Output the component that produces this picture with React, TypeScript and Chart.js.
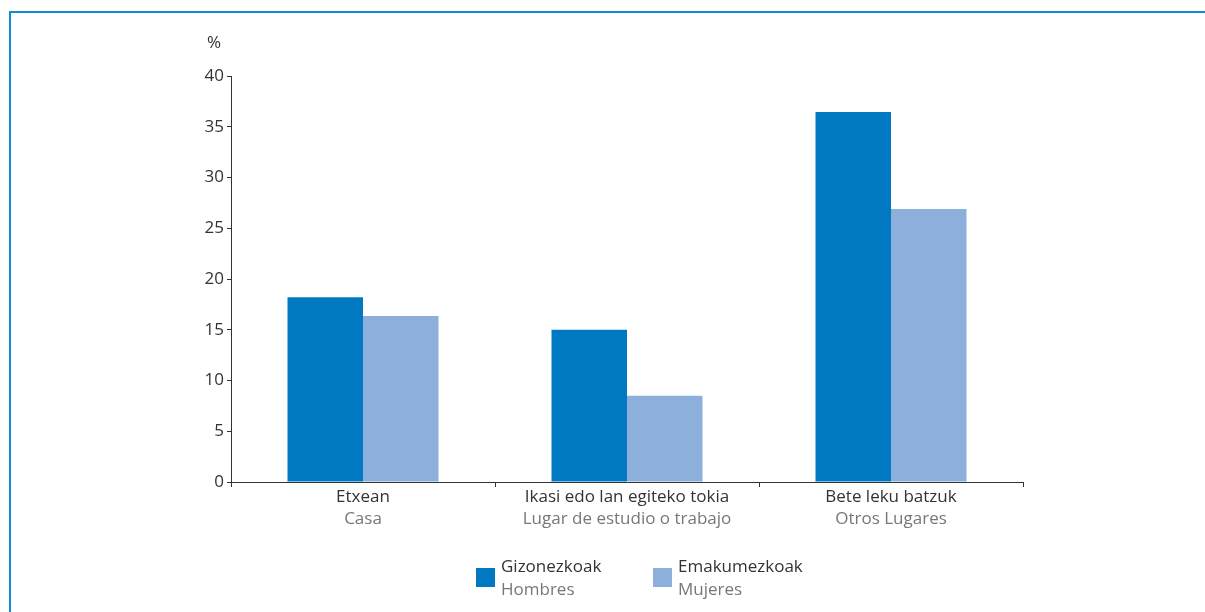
import React, { useEffect, useRef } from "react";
import { Chart, registerables } from "chart.js";

Chart.register(...registerables);

const categoriesEu = ["Etxean", "Ikasi edo lan egiteko tokia", "Bete leku batzuk"];
const categoriesEs = ["Casa", "Lugar de estudio o trabajo", "Otros Lugares"];
const seriesNamesEu = ["Gizonezkoak", "Emakumezkoak"];
const seriesNamesEs = ["Hombres", "Mujeres"];
const menValues = [18.2, 15.0, 36.45];
const womenValues = [16.35, 8.5, 26.9];
const yTicks = [0, 5, 10, 15, 20, 25, 30, 35, 40];
const unitLabel = "%";

const BLUE = "#0079C2";
const LIGHT = "#8CAFDB";
const DARK = "#333333";
const GREY = "#777777";
const FONT = "'Open Sans', sans-serif";

const textPlugin = {
  id: "customText",
  afterDraw(chart: any) {
    const ctx = chart.ctx;
    const xs = chart.scales.x;
    const ys = chart.scales.y;
    ctx.save();
    ctx.font = `17px ${FONT}`;
    ctx.textAlign = "center";
    ctx.textBaseline = "middle";
    categoriesEu.forEach((c, i) => {
      const x = xs.getPixelForValue(i);
      ctx.fillStyle = DARK;
      ctx.fillText(c, x, ys.bottom + 15);
      ctx.fillStyle = GREY;
      ctx.fillText(categoriesEs[i], x, ys.bottom + 37);
    });
    // unit label
    ctx.fillStyle = DARK;
    ctx.fillText(unitLabel, ys.right - 17, ys.top - 33);
    // legend
    const legendX = [476, 653];
    const legendY = 568;
    chart.data.datasets.forEach((ds: any, i: number) => {
      ctx.fillStyle = ds.backgroundColor;
      ctx.fillRect(legendX[i], legendY, 19, 19);
      ctx.textAlign = "left";
      ctx.fillStyle = DARK;
      ctx.fillText(seriesNamesEu[i], legendX[i] + 25, legendY - 1);
      ctx.fillStyle = GREY;
      ctx.fillText(seriesNamesEs[i], legendX[i] + 25, legendY + 22);
    });
    ctx.restore();
  },
};

export default function App() {
  const ref = useRef<HTMLCanvasElement>(null);
  useEffect(() => {
    if (!ref.current) return;
    const chart = new Chart(ref.current, {
      type: "bar",
      data: {
        labels: categoriesEu,
        datasets: [
          { label: seriesNamesEu[0], data: menValues, backgroundColor: BLUE, categoryPercentage: 0.572, barPercentage: 1 },
          { label: seriesNamesEu[1], data: womenValues, backgroundColor: LIGHT, categoryPercentage: 0.572, barPercentage: 1 },
        ],
      },
      options: {
        animation: false,
        responsive: false,
        maintainAspectRatio: false,
        layout: { padding: { left: 0, right: 182, top: 76, bottom: 0 } },
        plugins: { legend: { display: false }, tooltip: { enabled: false } },
        scales: {
          x: {
            afterFit: (s: any) => { s.height = 130; },
            grid: { drawOnChartArea: false, drawTicks: true, tickLength: 5, color: DARK, offset: true },
            border: { display: true, color: DARK, width: 1 },
            ticks: { display: false },
          },
          y: {
            min: 0,
            max: 40,
            afterFit: (s: any) => { s.width = 231; },
            afterBuildTicks: (s: any) => { s.ticks = yTicks.map((v) => ({ value: v })); },
            grid: { drawOnChartArea: false, drawTicks: true, tickLength: 4, color: DARK },
            border: { display: true, color: DARK, width: 1 },
            ticks: { color: DARK, font: { family: "'Open Sans', sans-serif", size: 17 }, padding: 3 },
          },
        },
      },
      plugins: [textPlugin],
    });
    return () => chart.destroy();
  }, []);
  return (
    <div style={{ position: "fixed", left: 0, top: 0, width: 1205, height: 612, background: "#fff", overflow: "hidden" }}>
      <div style={{ position: "absolute", left: 9, top: 11, right: -10, bottom: -10, borderTop: "2px solid #1589D6", borderLeft: "2px solid #1589D6" }} />
      <canvas ref={ref} width={1205} height={612} style={{ position: "absolute", left: 0, top: 0, width: 1205, height: 612 }} />
    </div>
  );
}
